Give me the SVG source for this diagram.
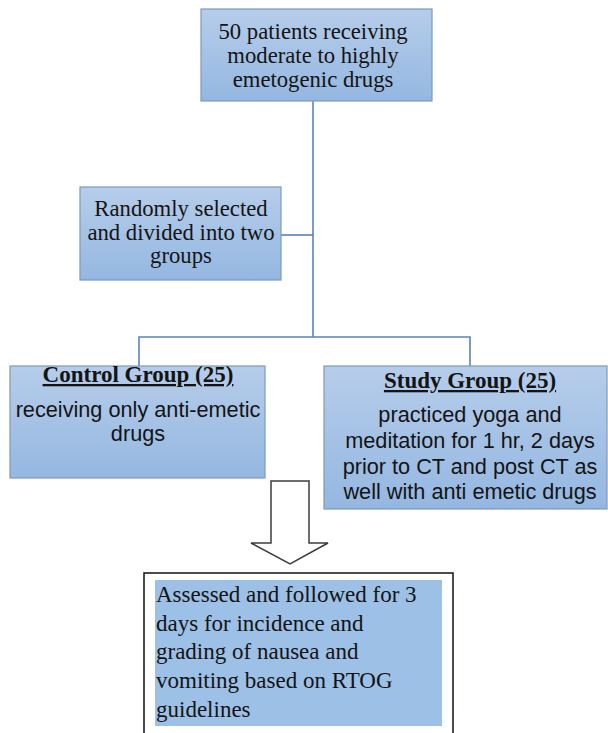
<svg xmlns="http://www.w3.org/2000/svg" width="608" height="733" viewBox="0 0 608 733">
<defs>
<linearGradient id="g" x1="0" y1="0" x2="0" y2="1">
<stop offset="0" stop-color="#b6cdea"/>
<stop offset="1" stop-color="#94b7e1"/>
</linearGradient>
</defs>
<style>
.box{fill:url(#g);stroke:#7f99ba;stroke-width:1.2}
.serif{font-family:"Liberation Serif","Times New Roman",serif;font-size:22.7px;fill:#141414}
.title{font-family:"Liberation Serif","Times New Roman",serif;font-size:23px;font-weight:bold;fill:#141414;text-decoration:underline}
.sans{font-family:"Liberation Sans",Arial,sans-serif;font-size:21.7px;fill:#141414}
.con{fill:none;stroke:#5b84b8;stroke-width:1.6}
.mid{text-anchor:middle}
</style>
<rect width="608" height="733" fill="#ffffff"/>
<g id="connectors">
<line class="con" x1="313" y1="101" x2="313" y2="337"/>
<line class="con" x1="281" y1="235" x2="313" y2="235"/>
<polyline class="con" points="139,366 139,337 470,337 470,366"/>
<polygon id="arrow" points="271,481 309,481 309,543 328,543 290,564 251,543 271,543" fill="#ffffff" stroke="#3c3c3c" stroke-width="1.5"/>
</g>
<g id="n-top">
<rect class="box" x="201" y="9" width="231" height="92"/>
<text class="serif mid" x="313" y="39">50 patients receiving</text>
<text class="serif mid" x="313" y="63">moderate to highly</text>
<text class="serif mid" x="313" y="87">emetogenic drugs</text>
</g>
<g id="n-random">
<rect class="box" x="80" y="187" width="201" height="93"/>
<text class="serif mid" x="181" y="216">Randomly selected</text>
<text class="serif mid" x="181" y="240">and divided into two</text>
<text class="serif mid" x="181" y="263">groups</text>
</g>
<g id="n-control">
<rect class="box" x="10" y="366" width="255" height="112"/>
<text class="title mid" x="138" y="382">Control Group (25)</text>
<text class="sans mid" x="138" y="417">receiving only anti-emetic</text>
<text class="sans mid" x="138" y="441">drugs</text>
</g>
<g id="n-study">
<rect class="box" x="324" y="366" width="283" height="143"/>
<text class="title mid" x="470" y="388">Study Group (25)</text>
<text class="sans mid" x="470" y="422">practiced yoga and</text>
<text class="sans mid" x="470" y="448">meditation for 1 hr, 2 days</text>
<text class="sans mid" x="470" y="474">prior to CT and post CT as</text>
<text class="sans mid" x="470" y="499">well with anti emetic drugs</text>
</g>
<g id="n-assess">
<rect x="144" y="573" width="309" height="165" fill="#ffffff" stroke="#111111" stroke-width="1.5"/>
<rect x="155" y="580" width="287" height="146" fill="#9dc0e6"/>
<text class="serif" style="font-size:23px" x="156" y="602">Assessed and followed for 3</text>
<text class="serif" style="font-size:23px" x="156" y="631">days for incidence and</text>
<text class="serif" style="font-size:23px" x="156" y="659">grading of nausea and</text>
<text class="serif" style="font-size:23px" x="156" y="688">vomiting based on RTOG</text>
<text class="serif" style="font-size:23px" x="156" y="717">guidelines</text>
</g>
</svg>
